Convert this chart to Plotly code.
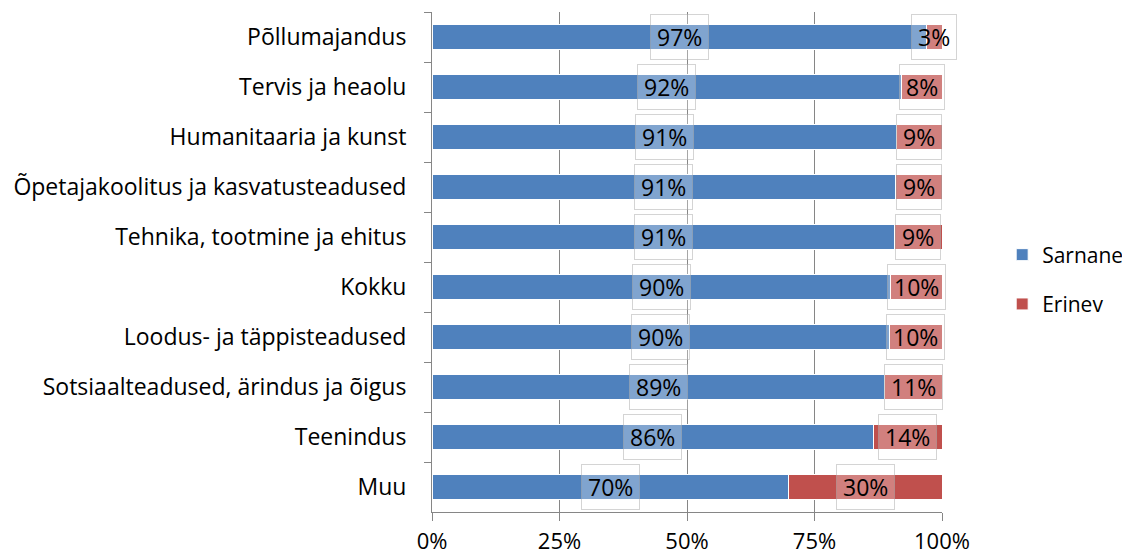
import plotly.graph_objects as go

categories = ["Põllumajandus", "Tervis ja heaolu", "Humanitaaria ja kunst",
              "Õpetajakoolitus ja kasvatusteadused", "Tehnika, tootmine ja ehitus",
              "Kokku", "Loodus- ja täppisteadused", "Sotsiaalteadused, ärindus ja õigus",
              "Teenindus", "Muu"]
sarnane = [96.9, 92.1, 91.1, 90.9, 90.7, 89.9, 89.8, 88.8, 86.5, 69.9]
erinev = [round(100 - v, 1) for v in sarnane]
x_ticks = [0, 25, 50, 75, 100]
x_tick_labels = ["0%", "25%", "50%", "75%", "100%"]

BLUE = "#4F81BD"
RED = "#C0504D"
FONT = "Open Sans"
FS = 23

fig = go.Figure()
fig.add_trace(go.Bar(y=categories, x=sarnane, orientation="h", name="Sarnane",
                     marker=dict(color=BLUE, line=dict(color="white", width=1)),
                     legendgroup="a", hoverinfo="skip"))
fig.add_trace(go.Bar(y=categories, x=erinev, orientation="h", name="Erinev",
                     marker=dict(color=RED, line=dict(color="white", width=1)),
                     legendgroup="b", hoverinfo="skip"))

annotations = []
for cat, s, e in zip(categories, sarnane, erinev):
    for xc, val in ((s / 2, s), (s + e / 2, e)):
        annotations.append(dict(
            x=xc, y=cat, xref="x", yref="y", text=f"{round(val)}%",
            showarrow=False, font=dict(family=FONT, size=FS, color="black"),
            bgcolor="rgba(255,255,255,0.28)", bordercolor="rgba(170,170,170,0.5)",
            borderwidth=1, borderpad=6))

fig.update_layout(
    barmode="stack",
    bargap=0.51,
    width=1122, height=550,
    margin=dict(l=424, r=188, t=4, b=46, autoexpand=False),
    paper_bgcolor="white", plot_bgcolor="white",
    font=dict(family=FONT, size=FS, color="black"),
    showlegend=True,
    legend=dict(x=1.118, y=0.465, xanchor="left", yanchor="middle",
                font=dict(family=FONT, size=21), tracegroupgap=19,
                bgcolor="rgba(0,0,0,0)"),
    annotations=annotations,
)
fig.update_xaxes(range=[0, 100], tickvals=x_ticks, ticktext=x_tick_labels,
                 showgrid=True, gridcolor="#868686", gridwidth=1,
                 ticks="outside", ticklen=8, tickcolor="#868686",
                 tickfont=dict(size=22), ticklabelstandoff=2,
                 showline=True, linecolor="#868686", linewidth=1,
                 zeroline=False, fixedrange=True, automargin=False)
fig.update_yaxes(categoryorder="array", categoryarray=categories, autorange="reversed",
                 showline=True, linecolor="#868686", linewidth=1,
                 ticks="outside", tickson="boundaries", ticklen=7, tickcolor="#868686",
                 ticklabelstandoff=20, showgrid=False, fixedrange=True, automargin=False)

fig.write_html("out.html")
